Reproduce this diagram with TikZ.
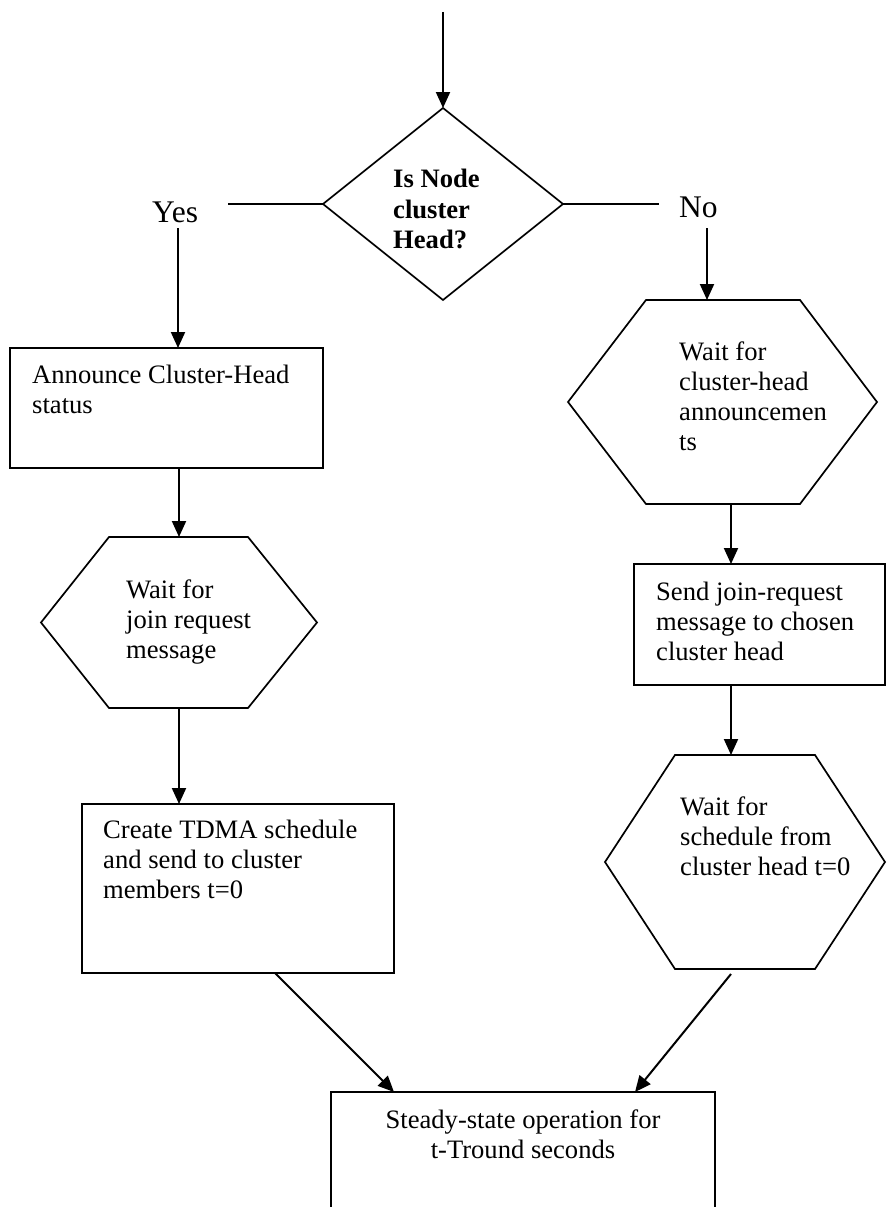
\documentclass[tikz,border=0pt]{standalone}
\usepackage{fontspec}
\setmainfont{Liberation Serif}
\usetikzlibrary{arrows.meta,shapes.geometric,calc}
\begin{document}
\begin{tikzpicture}[x=1pt,y=-1pt,
  shapeline/.style={draw=black,line width=1.7pt},
  boxnode/.style={shapeline,rectangle,inner sep=0pt,outer sep=0pt},
  hexframe/.style={rectangle,inner sep=0pt,outer sep=0pt,draw=none},
  txt/.style={font=\fontsize{26.6}{30}\selectfont,inner sep=0pt,align=left,anchor=north west},
  lbl/.style={font=\fontsize{31.5}{34}\selectfont,inner sep=0pt,anchor=base west},
  conn/.style={line width=2pt},
  arr/.style={conn,-{Triangle[length=16pt,width=14pt]}}]
\useasboundingbox (0,0) rectangle (887,1207);

% decision diamond
\node[shapeline,diamond,inner sep=0pt,outer sep=0pt,minimum width=240pt,minimum height=192pt] (dec) at (443,204) {};
\node[txt,font=\fontsize{26.6}{30.5}\selectfont\bfseries] (dectxt) at (393,169) {Is Node\\cluster\\Head?};

% top entry
\coordinate (start) at (443,12);
\draw[arr] (start) -- (dec.north);

% Yes / No branches
\coordinate (yesL) at (228,204);
\coordinate (noR) at (659,204);
\draw[conn] (dec.west) -- (yesL);
\draw[conn] (dec.east) -- (noR);
\node[lbl] (yes) at (152,222) {Yes};
\node[lbl] (no) at (679,217) {No};
\coordinate (yesD) at (178,228);
\coordinate (noD) at (707,228);

% left column
\node[boxnode,minimum width=313pt,minimum height=120pt] (b1) at (166.5,408) {};
\node[txt] (b1t) at (32,365) {Announce Cluster-Head\\status};

\node[hexframe,minimum width=276pt,minimum height=171pt] (h1) at (179,622.5) {};
\draw[shapeline] ($(h1.north west)+(68,0)$) -- ($(h1.north east)+(-69,0)$) -- (h1.east) -- ($(h1.south east)+(-69,0)$) -- ($(h1.south west)+(68,0)$) -- (h1.west) -- cycle;
\node[txt] (h1t) at (126,580) {Wait for\\join request\\message};

\node[boxnode,minimum width=312pt,minimum height=169pt] (b3) at (238,888.5) {};
\node[txt] (b3t) at (103,820) {Create TDMA schedule\\and send to cluster\\members t=0};

% right column
\node[hexframe,minimum width=309pt,minimum height=204pt] (h2) at (722.5,402) {};
\draw[shapeline] ($(h2.north west)+(78,0)$) -- ($(h2.north east)+(-77,0)$) -- (h2.east) -- ($(h2.south east)+(-77,0)$) -- ($(h2.south west)+(78,0)$) -- (h2.west) -- cycle;
\node[txt] (h2t) at (679,342) {Wait for\\cluster-head\\announcemen\\ts};

\node[boxnode,minimum width=251pt,minimum height=121pt] (b2) at (759.5,624.5) {};
\node[txt] (b2t) at (656,582) {Send join-request\\message to chosen\\cluster head};

\node[hexframe,minimum width=280pt,minimum height=214pt] (h3) at (745,862) {};
\draw[shapeline] ($(h3.north west)+(70,0)$) -- ($(h3.north east)+(-70,0)$) -- (h3.east) -- ($(h3.south east)+(-70,0)$) -- ($(h3.south west)+(70,0)$) -- (h3.west) -- cycle;
\node[txt] (h3t) at (680,797) {Wait for\\schedule from\\cluster head t=0};

% final box
\node[boxnode,minimum width=384pt,minimum height=140pt] (fin) at (523,1162) {};
\node[txt,align=center,anchor=north] (fint) at (523,1110) {Steady-state operation for\\t-Tround seconds};

% connectors
\draw[arr] (yesD) -- (yesD |- b1.north);
\draw[arr] (noD) -- (noD |- h2.north);
\draw[arr] (b1.south -| 179,0) -- (h1.north -| 179,0);
\draw[arr] (h1.south -| 179,0) -- (b3.north -| 179,0);
\draw[arr] (h2.south -| 731,0) -- (b2.north -| 731,0);
\draw[arr] (b2.south -| 731,0) -- (h3.north -| 731,0);
\draw[arr] (b3.south -| 275,0) -- (fin.north -| 394,0);
\draw[arr] ([yshift=-5pt]h3.south -| 731,0) -- (fin.north -| 635,0);
\end{tikzpicture}
\end{document}
